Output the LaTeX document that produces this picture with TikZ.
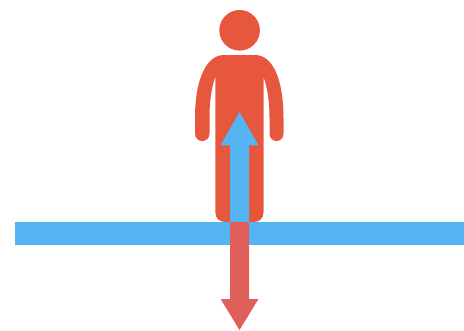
\documentclass[tikz,border=0pt]{standalone}
\definecolor{personred}{HTML}{E6573D}
\definecolor{skyblue}{HTML}{55B4F2}
\definecolor{arrowred}{HTML}{E05F5A}
\tikzset{
  personfill/.style={fill=personred,draw=none},
  bluefill/.style={fill=skyblue,draw=none},
  redfill/.style={fill=arrowred,draw=none}
}
\begin{document}
\begin{tikzpicture}[x=1pt,y=-1pt]
\useasboundingbox (0,0) rectangle (464,330);
% head
\path[personfill] (239.6,30.3) circle (20.3);
% body with arms
\path[personfill]
  (224,55) -- (255,55)
  .. controls (273,55) and (283.5,80) .. (283.5,118)
  -- (283.5,133.5)
  .. controls (283.5,143.5) and (269.5,143.5) .. (269.5,133.5)
  -- (269.5,118)
  .. controls (269.5,100) and (267,86) .. (263.5,77)
  -- (263.5,212)
  .. controls (263.5,219) and (259,222) .. (253.5,222)
  -- (225.5,222)
  .. controls (220,222) and (215.3,219) .. (215.3,212)
  -- (215.3,77)
  .. controls (212,86) and (209.5,100) .. (209.5,118)
  -- (209.5,133.5)
  .. controls (209.5,143.5) and (195,143.5) .. (195,133.5)
  -- (195,118)
  .. controls (195,80) and (206,55) .. (224,55) -- cycle;
% ground bar
\path[bluefill] (15,222) rectangle (464,245);
% upward arrow
\path[bluefill] (239.5,112) -- (258.5,145.3) -- (249,145.3) -- (249,222) -- (230,222) -- (230,145.3) -- (220.6,145.3) -- cycle;
% downward arrow
\path[redfill] (230,222) -- (249,222) -- (249,299) -- (258.5,299) -- (239.5,330) -- (220.6,299) -- (230,299) -- cycle;
\end{tikzpicture}
\end{document}
